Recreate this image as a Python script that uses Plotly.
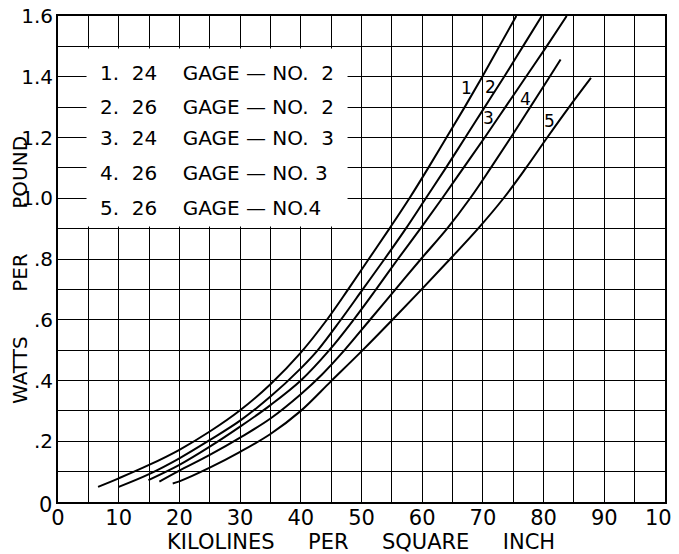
import plotly.graph_objects as go

# ---- data ----
c1_x = [6.6, 10, 15, 20, 25, 30, 35, 40, 44.3, 47.8, 51.2, 54.6, 57.9, 61.0, 64.0, 67.0, 69.9, 72.7, 75.5]
c1_y = [0.05, 0.078, 0.122, 0.172, 0.232, 0.302, 0.388, 0.492, 0.6, 0.7, 0.8, 0.9, 1.0, 1.1, 1.2, 1.3, 1.4, 1.5, 1.6]

c2_x = [10, 15, 20, 25, 30, 35, 40, 42.8, 46.6, 50.2, 53.8, 57.3, 60.6, 63.9, 67.1, 70.3, 73.5, 76.6, 79.7]
c2_y = [0.05, 0.092, 0.144, 0.204, 0.268, 0.347, 0.44, 0.5, 0.6, 0.7, 0.8, 0.9, 1.0, 1.1, 1.2, 1.3, 1.4, 1.5, 1.6]

c3_x = [14.9, 20, 25, 30, 35, 40, 44.7, 48.7, 52.4, 56.0, 59.7, 63.3, 66.8, 70.3, 73.7, 77.1, 80.5, 83.8]
c3_y = [0.072, 0.122, 0.182, 0.248, 0.319, 0.40, 0.5, 0.6, 0.7, 0.8, 0.9, 1.0, 1.1, 1.2, 1.3, 1.4, 1.5, 1.6]

c4_x = [16.7, 20, 25, 30, 35, 40, 43.5, 47.2, 51.4, 55.6, 59.8, 64.1, 67.9, 71.3, 74.6, 77.8, 81.0, 82.8]
c4_y = [0.067, 0.103, 0.155, 0.212, 0.275, 0.355, 0.42, 0.5, 0.6, 0.7, 0.8, 0.9, 1.0, 1.1, 1.2, 1.3, 1.4, 1.457]

c5_x = [18.9, 20, 25, 30, 35, 40, 45, 50.2, 55.1, 59.9, 64.6, 69.2, 73.4, 77.1, 80.6, 84.2, 87.8]
c5_y = [0.061, 0.068, 0.113, 0.165, 0.224, 0.300, 0.398, 0.5, 0.6, 0.7, 0.8, 0.9, 1.0, 1.1, 1.2, 1.3, 1.396]

series_x = [c1_x, c2_x, c3_x, c4_x, c5_x]
series_y = [c1_y, c2_y, c3_y, c4_y, c5_y]

curve_labels = ["1", "2", "3", "4", "5"]
curve_label_x = [67.3, 71.2, 71.0, 77.0, 81.0]
curve_label_y = [1.364, 1.365, 1.265, 1.328, 1.253]

legend_lines = [
    "1.  24    GAGE — NO.  2",
    "2.  26    GAGE — NO.  2",
    "3.  24    GAGE — NO.  3",
    "4.  26    GAGE — NO. 3",
    "5.  26    GAGE — NO.4",
]
legend_y = [1.412, 1.30, 1.197, 1.083, 0.967]

x_ticks = [0, 10, 20, 30, 40, 50, 60, 70, 80, 90, 100]
y_ticks = [0.2, 0.4, 0.6, 0.8, 1.0, 1.2, 1.4, 1.6]
y_tick_text = [".2", ".4", ".6", ".8", "1.0", "1.2", "1.4", "1.6"]

FONT = "DejaVu Sans"

fig = go.Figure()
for xs, ys in zip(series_x, series_y):
    fig.add_trace(go.Scatter(x=xs, y=ys, mode="lines",
                             line=dict(color="black", width=2, shape="spline", smoothing=1.0),
                             showlegend=False, hoverinfo="skip"))

# white legend panel covering the grid
fig.add_shape(type="rect", xref="x", yref="y", x0=4.7, x1=47.7, y0=0.907, y1=1.493,
              fillcolor="white", line=dict(width=0), layer="above")

for t, yy in zip(legend_lines, legend_y):
    fig.add_annotation(x=6.6, y=yy, xref="x", yref="y", text=t, showarrow=False,
                       xanchor="left", yanchor="middle",
                       font=dict(family=FONT, size=20, color="black"))

for t, lx, ly in zip(curve_labels, curve_label_x, curve_label_y):
    fig.add_annotation(x=lx, y=ly, xref="x", yref="y", text=t, showarrow=False,
                       font=dict(family=FONT, size=17, color="black"))

# origin "0" on y axis
fig.add_annotation(x=0, y=0, xref="x", yref="y", text="0", showarrow=False,
                   xanchor="right", yanchor="middle", xshift=-4, yshift=-3,
                   font=dict(family=FONT, size=21, color="black"))

# axis titles
fig.add_annotation(x=49.9, y=0, xref="x", yref="paper", text="KILOLINES     PER     SQUARE     INCH",
                   showarrow=False, yanchor="middle", yshift=-40,
                   font=dict(family=FONT, size=21, color="black"))
fig.add_annotation(x=0, y=0.764, xref="paper", yref="y", text="WATTS       PER       POUND",
                   showarrow=False, textangle=-90, xanchor="center", xshift=-38,
                   font=dict(family=FONT, size=20, color="black"))

fig.update_xaxes(range=[0, 100], tickmode="array", tickvals=x_ticks,
                 ticktext=[str(v) for v in x_ticks], automargin=False,
                 ticklabeloverflow="allow", ticklabelstandoff=-4,
                 showgrid=True, gridcolor="black", gridwidth=1.4,
                 minor=dict(dtick=5, showgrid=True, gridcolor="black", gridwidth=1.4),
                 showline=True, linecolor="black", linewidth=2, mirror=True,
                 ticks="", zeroline=False,
                 tickfont=dict(family=FONT, size=21, color="black"))
fig.update_yaxes(range=[0, 1.6], tickmode="array", tickvals=y_ticks, ticktext=y_tick_text,
                 automargin=False, ticklabeloverflow="allow", ticklabelstandoff=-1,
                 showgrid=True, gridcolor="black", gridwidth=1.4,
                 minor=dict(dtick=0.1, showgrid=True, gridcolor="black", gridwidth=1.4),
                 showline=True, linecolor="black", linewidth=2, mirror=True,
                 ticks="", zeroline=False,
                 tickfont=dict(family=FONT, size=20, color="black"))

# the page body adds an 8px offset, so the figure is sized to fit the 679x554 window
fig.update_layout(width=671, height=546, margin=dict(l=50, r=14, t=8, b=52),
                  paper_bgcolor="white", plot_bgcolor="white", showlegend=False)

fig.write_html("out.html")
